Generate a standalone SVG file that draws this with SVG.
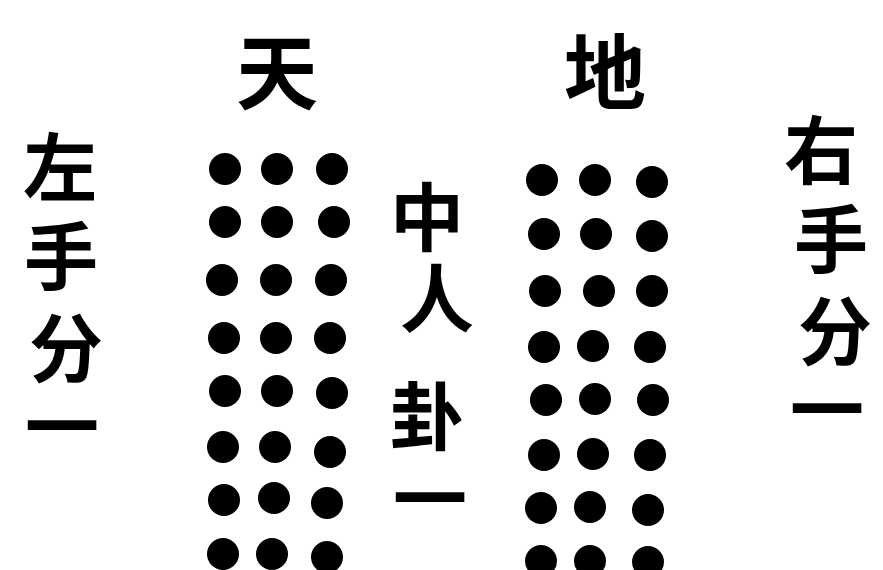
<svg xmlns="http://www.w3.org/2000/svg" width="883" height="570" viewBox="0 0 883 570">
<style>
.t{font-family:"Noto Sans CJK SC","Noto Sans CJK JP",sans-serif;font-weight:700;fill:#000;text-anchor:middle;dominant-baseline:central}
.d{fill:#000}
</style>
<rect width="883" height="570" fill="#fff"/>
<g id="label-tian"><text class="t" x="277" y="67" font-size="82">天</text></g>
<g id="label-di"><text class="t" x="605" y="67" font-size="82">地</text></g>
<g id="label-left" font-size="74">
<text class="t" x="60" y="162">左</text>
<text class="t" x="61" y="251">手</text>
<text class="t" x="66" y="343">分</text>
<text class="t" x="62" y="421">一</text>
</g>
<g id="label-right" font-size="74">
<text class="t" x="821" y="145">右</text>
<text class="t" x="831" y="234">手</text>
<text class="t" x="835" y="326">分</text>
<text class="t" x="827" y="404">一</text>
</g>
<g id="label-middle" font-size="74">
<text class="t" x="427" y="212">中</text>
<text class="t" x="437" y="293">人</text>
<text class="t" x="427" y="411">卦</text>
<text class="t" x="430" y="493">一</text>
</g>
<g id="dots-tian" class="d">
<circle cx="225" cy="169" r="16"/><circle cx="277" cy="169" r="16"/><circle cx="332" cy="169" r="16"/>
<circle cx="225" cy="222" r="16"/><circle cx="277" cy="222" r="16"/><circle cx="334" cy="222" r="16"/>
<circle cx="222" cy="280" r="16"/><circle cx="276" cy="280" r="16"/><circle cx="331" cy="280" r="16"/>
<circle cx="224" cy="338" r="16"/><circle cx="276" cy="338" r="16"/><circle cx="330" cy="338" r="16"/>
<circle cx="225" cy="391" r="16"/><circle cx="277" cy="391" r="16"/><circle cx="332" cy="393" r="16"/>
<circle cx="223" cy="447" r="16"/><circle cx="275" cy="447" r="16"/><circle cx="330" cy="452" r="16"/>
<circle cx="224" cy="500" r="16"/><circle cx="274" cy="498" r="16"/><circle cx="327" cy="503" r="16"/>
<circle cx="223" cy="554" r="16"/><circle cx="272" cy="554" r="16"/><circle cx="327" cy="557" r="16"/>
</g>
<g id="dots-di" class="d">
<circle cx="542" cy="180" r="16"/><circle cx="595" cy="180" r="16"/><circle cx="652" cy="182" r="16"/>
<circle cx="544" cy="234" r="16"/><circle cx="596" cy="234" r="16"/><circle cx="652" cy="236" r="16"/>
<circle cx="545" cy="291" r="16"/><circle cx="599" cy="291" r="16"/><circle cx="652" cy="291" r="16"/>
<circle cx="544" cy="347" r="16"/><circle cx="593" cy="346" r="16"/><circle cx="650" cy="347" r="16"/>
<circle cx="546" cy="400" r="16"/><circle cx="595" cy="399" r="16"/><circle cx="653" cy="400" r="16"/>
<circle cx="544" cy="455" r="16"/><circle cx="593" cy="454" r="16"/><circle cx="650" cy="455" r="16"/>
<circle cx="541" cy="508" r="16"/><circle cx="590" cy="507" r="16"/><circle cx="648" cy="510" r="16"/>
<circle cx="541" cy="561" r="16"/><circle cx="590" cy="561" r="16"/><circle cx="648" cy="562" r="16"/>
</g>
</svg>
